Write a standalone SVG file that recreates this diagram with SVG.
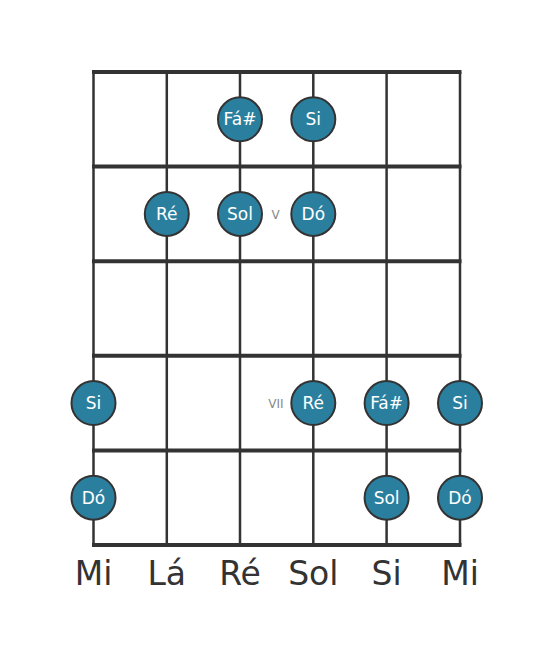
<svg xmlns="http://www.w3.org/2000/svg" width="553" height="656" viewBox="0 0 553 656">
<style>
.str{stroke:#333;stroke-width:2.5}
.fret{stroke:#333;stroke-width:4}
.dot circle{fill:#2b7f9e;stroke:#333;stroke-width:2}
.dot text{fill:#fff;font-family:"DejaVu Sans",sans-serif;font-size:17px;text-anchor:middle;dominant-baseline:central}
.lbl{fill:#333;font-family:"DejaVu Sans",sans-serif;font-size:33px;text-anchor:middle}
.pos{fill:#888;font-family:"DejaVu Sans",sans-serif;font-size:12px;text-anchor:middle;dominant-baseline:central}
</style>
<rect width="553" height="656" fill="#fff"/>
<g id="connectors">
<line class="str" x1="93.5" y1="72" x2="93.5" y2="545"/>
<line class="str" x1="166.8" y1="72" x2="166.8" y2="545"/>
<line class="str" x1="240" y1="72" x2="240" y2="545"/>
<line class="str" x1="313.3" y1="72" x2="313.3" y2="545"/>
<line class="str" x1="386.6" y1="72" x2="386.6" y2="545"/>
<line class="str" x1="460" y1="72" x2="460" y2="545"/>
<line class="fret" x1="92" y1="72" x2="461.5" y2="72"/>
<line class="fret" x1="92" y1="166.6" x2="461.5" y2="166.6"/>
<line class="fret" x1="92" y1="261.2" x2="461.5" y2="261.2"/>
<line class="fret" x1="92" y1="355.8" x2="461.5" y2="355.8"/>
<line class="fret" x1="92" y1="450.4" x2="461.5" y2="450.4"/>
<line class="fret" x1="92" y1="545" x2="461.5" y2="545"/>
</g>
<g id="n1" class="dot"><circle cx="240" cy="119.3" r="22"/><text x="240" y="119.3">Fá#</text></g>
<g id="n2" class="dot"><circle cx="313.3" cy="119.3" r="22"/><text x="313.3" y="119.3">Si</text></g>
<g id="n3" class="dot"><circle cx="166.8" cy="213.9" r="22"/><text x="166.8" y="213.9">Ré</text></g>
<g id="n4" class="dot"><circle cx="240" cy="213.9" r="22"/><text x="240" y="213.9">Sol</text></g>
<g id="n5" class="dot"><circle cx="313.3" cy="213.9" r="22"/><text x="313.3" y="213.9">Dó</text></g>
<g id="n6" class="dot"><circle cx="93.5" cy="403.1" r="22"/><text x="93.5" y="403.1">Si</text></g>
<g id="n7" class="dot"><circle cx="313.3" cy="403.1" r="22"/><text x="313.3" y="403.1">Ré</text></g>
<g id="n8" class="dot"><circle cx="386.6" cy="403.1" r="22"/><text x="386.6" y="403.1">Fá#</text></g>
<g id="n9" class="dot"><circle cx="460" cy="403.1" r="22"/><text x="460" y="403.1">Si</text></g>
<g id="n10" class="dot"><circle cx="93.5" cy="497.7" r="22"/><text x="93.5" y="497.7">Dó</text></g>
<g id="n11" class="dot"><circle cx="386.6" cy="497.7" r="22"/><text x="386.6" y="497.7">Sol</text></g>
<g id="n12" class="dot"><circle cx="460" cy="497.7" r="22"/><text x="460" y="497.7">Dó</text></g>
<text class="pos" x="275.5" y="214.5">V</text>
<text class="pos" x="276" y="403.6">VII</text>
<g id="labels">
<text class="lbl" x="93.5" y="585">Mi</text>
<text class="lbl" x="166.8" y="585">Lá</text>
<text class="lbl" x="240" y="585">Ré</text>
<text class="lbl" x="313.3" y="585">Sol</text>
<text class="lbl" x="386.6" y="585">Si</text>
<text class="lbl" x="460" y="585">Mi</text>
</g>
</svg>
